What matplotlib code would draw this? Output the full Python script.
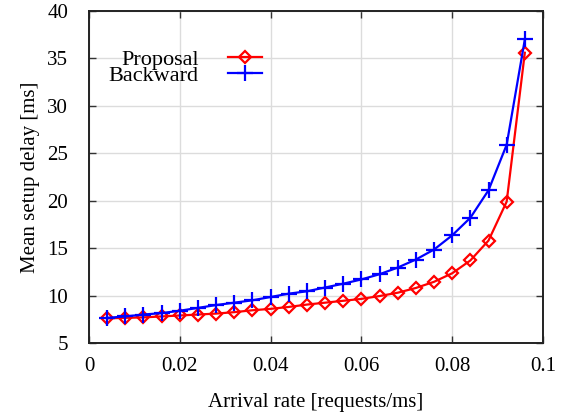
import matplotlib
matplotlib.use("Agg")
import matplotlib.pyplot as plt

plt.rcParams['font.family'] = ['Liberation Serif', 'DejaVu Serif']
plt.rcParams['mathtext.fontset'] = 'stix'

arrival_rate = [0.004, 0.008, 0.012, 0.016, 0.020, 0.024, 0.028, 0.032,
                0.036, 0.040, 0.044, 0.048, 0.052, 0.056, 0.060, 0.064,
                0.068, 0.072, 0.076, 0.080, 0.084, 0.088, 0.092, 0.096]

proposal_delay = [7.6, 7.65, 7.7, 7.8, 7.9, 8.0, 8.1, 8.25,
                  8.45, 8.6, 8.8, 9.05, 9.25, 9.45, 9.65, 9.95,
                  10.3, 10.8, 11.45, 12.35, 13.7, 15.8, 19.9, 35.6]

backward_delay = [7.65, 7.8, 8.0, 8.15, 8.4, 8.7, 9.0, 9.25,
                  9.5, 9.85, 10.2, 10.45, 10.85, 11.25, 11.7, 12.25,
                  12.95, 13.8, 14.85, 16.35, 18.2, 21.1, 25.9, 37.0]

x_ticks = [0, 0.02, 0.04, 0.06, 0.08, 0.1]
x_tick_labels = ["0", "0.02", "0.04", "0.06", "0.08", "0.1"]
y_ticks = [5, 10, 15, 20, 25, 30, 35, 40]

fig = plt.figure(figsize=(5.79, 4.12), dpi=100)
ax = fig.add_axes([0.1537, 0.1675, 0.7841, 0.8058])

ax.plot(arrival_rate, proposal_delay, color='#ff0000', lw=1.6,
        marker='D', markersize=6.5, markerfacecolor='none',
        markeredgecolor='#ff0000', markeredgewidth=1.6, label='Proposal',
        zorder=3)
ax.plot(arrival_rate, backward_delay, color='#0000ff', lw=1.6,
        marker='+', markersize=11, markeredgewidth=1.6, label='Backward',
        zorder=4)

ax.set_xlim(0, 0.1)
ax.set_ylim(5, 40)
ax.set_xticks(x_ticks)
ax.set_xticklabels(x_tick_labels)
ax.set_yticks(y_ticks)

ax.grid(True, color='#dcdcdc', lw=1.0)
ax.set_axisbelow(True)
ax.tick_params(direction='in', top=True, right=True, length=5, width=1.0,
               color='#333333', labelsize=15)
ax.tick_params(axis='x', pad=10)
ax.tick_params(axis='y', pad=15)
for s in ax.spines.values():
    s.set_linewidth(1.4)
    s.set_color('#222222')

ax.set_xlabel('Arrival rate [requests/ms]', fontsize=15, labelpad=12.5)
ax.set_ylabel('Mean setup delay [ms]', fontsize=15, labelpad=5)

leg = ax.legend(loc='upper left', bbox_to_anchor=(0.024, 0.911),
                markerfirst=False, frameon=False, fontsize=16,
                labelspacing=-0.2, handlelength=1.55, handletextpad=1.3,
                borderaxespad=0)

fig.savefig('out.png', dpi=100)
